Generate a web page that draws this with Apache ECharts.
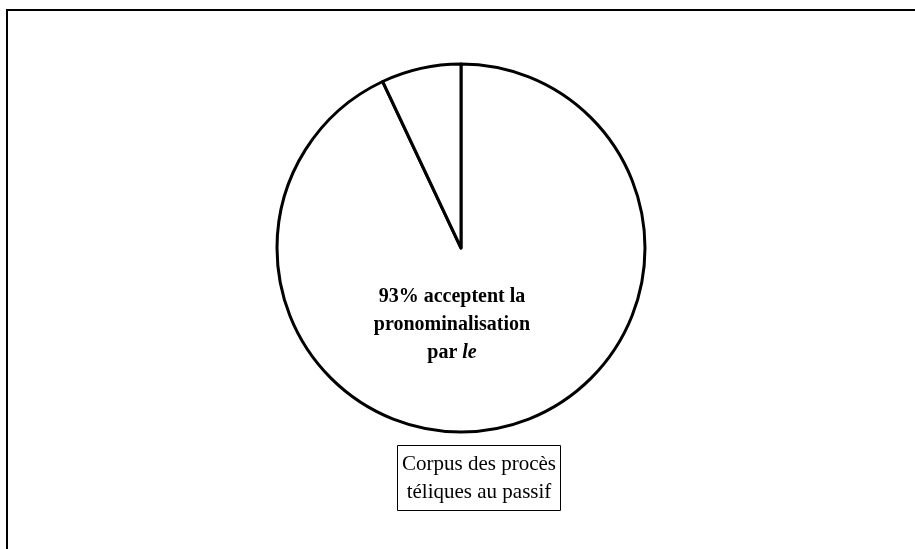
<!DOCTYPE html>
<html>
<head>
<meta charset="utf-8">
<style>
  html, body { margin: 0; padding: 0; background: #ffffff; }
  #chart { width: 915px; height: 549px; }
</style>
<script src="https://cdn.jsdelivr.net/npm/echarts@6/dist/echarts.min.js"></script>
</head>
<body>
<div id="chart"></div>
<script>
// Share of telic processes accepting pronominalisation with "le"
const categories = ['acceptent la pronominalisation par le', 'autres'];
const values = [93, 7];
const titleLines = ['Corpus des procès', 'téliques au passif'];

const chart = echarts.init(document.getElementById('chart'), null, { renderer: 'canvas' });

const serif = '"Liberation Serif", "DejaVu Serif", serif';

const pieData = categories.map((name, i) => ({
  name: name,
  value: values[i],
  label: i === 0 ? {
    show: true,
    position: 'center',
    padding: [154, 18, 0, 0],
    formatter: p => p.value + '% acceptent la\npronominalisation\npar {it|le}',
    fontFamily: serif,
    fontSize: 20,
    fontWeight: 'bold',
    color: '#000',
    lineHeight: 28,
    align: 'center',
    rich: {
      it: { fontFamily: serif, fontSize: 20, fontWeight: 'bold', fontStyle: 'italic', color: '#000', lineHeight: 28 }
    }
  } : { show: false }
}));

chart.setOption({
  animation: false,
  backgroundColor: '#ffffff',
  title: {
    text: titleLines.join('\n'),
    left: 474,
    top: 445,
    textAlign: 'center',
    padding: [5, 5, 5, 5],
    borderColor: '#000',
    borderWidth: 1,
    textStyle: {
      fontFamily: serif,
      fontSize: 21,
      fontWeight: 'normal',
      color: '#000',
      lineHeight: 28
    }
  },
  graphic: [{
    type: 'rect',
    shape: { x: 7, y: 10, width: 1000, height: 1000 },
    style: { fill: 'none', stroke: '#000', lineWidth: 2 },
    silent: true
  }],
  series: [{
    type: 'pie',
    center: [461, 248],
    radius: 184,
    startAngle: 90,
    clockwise: true,
    silent: true,
    labelLine: { show: false },
    itemStyle: { color: '#ffffff', borderColor: '#000', borderWidth: 3 },
    emphasis: { disabled: true },
    data: pieData
  }]
});
</script>
</body>
</html>
